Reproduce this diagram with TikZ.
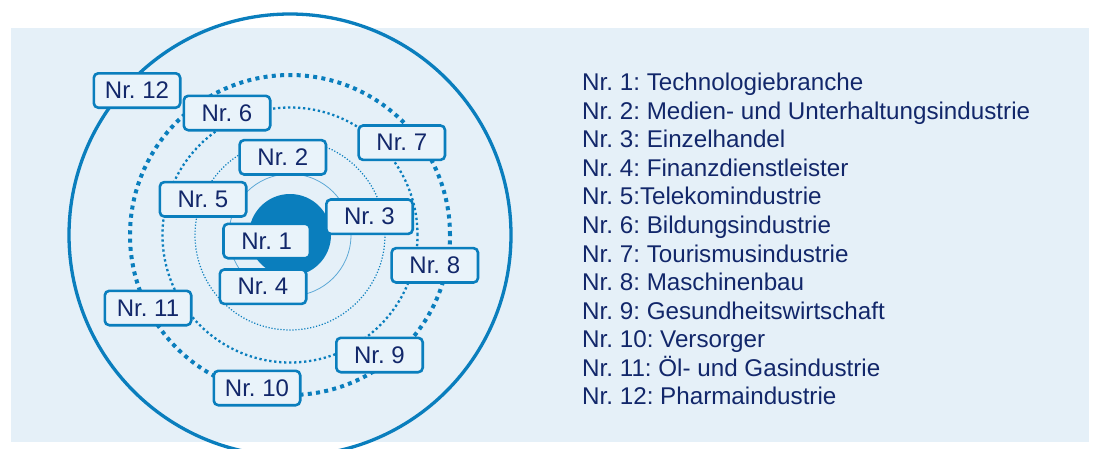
\documentclass[tikz,border=0pt]{standalone}
\usepackage{fontspec}
\setmainfont{Liberation Sans}
\frenchspacing
\definecolor{RingBlue}{HTML}{0A7EBD}
\definecolor{RingThin}{HTML}{5DA9D6}
\definecolor{PanelBlue}{HTML}{E5F0F8}
\definecolor{TagFill}{HTML}{E9F3FA}
\definecolor{InkNavy}{HTML}{12276A}

\begin{document}
\begin{tikzpicture}[
		x=1pt,y=-1pt,
		tag/.style={draw=RingBlue,line width=2.6pt,rounded corners=4.5pt,fill=TagFill,text=InkNavy,minimum width=86.4pt,minimum height=34.4pt,inner sep=0pt,font=\fontsize{24}{28}\selectfont},
		entry/.style={anchor=base west,inner sep=0pt,text=InkNavy,font=\fontsize{24.2}{28}\selectfont},
		ring/.style={draw=RingBlue}
	]
	\useasboundingbox (0,0) rectangle (1094,448);
	\clip (0,0) rectangle (1094,448);
	\fill[PanelBlue] (11,28) rectangle (1089,442);
	% rings round the core
	\coordinate (hub) at (290,235);
	\draw[ring,line width=3.3pt] (hub) circle[radius=221pt];
	\draw[ring,line width=4pt,dash pattern=on 4pt off 4.3pt] (hub) circle[radius=160pt];
	\draw[ring,line width=2.3pt,dash pattern=on 2.3pt off 2.7pt] (hub) circle[radius=127.5pt];
	\draw[ring,line width=1.2pt,dash pattern=on 1.2pt off 1.8pt] (hub) circle[radius=95pt];
	\draw[RingThin,line width=0.8pt] (hub) circle[radius=61pt];
	\fill[RingBlue] (hub) circle[radius=41pt];
	% tags
	\node[tag] (n12) at (137,90.5) {Nr. 12};
	\node[tag] (n6) at (227,113) {Nr. 6};
	\node[tag] (n7) at (401.8,142.7) {Nr. 7};
	\node[tag] (n2) at (282.8,157.3) {Nr. 2};
	\node[tag] (n5) at (203,199.3) {Nr. 5};
	\node[tag] (n3) at (369.5,216.7) {Nr. 3};
	\node[tag] (n1) at (266.7,241) {Nr. 1};
	\node[tag] (n8) at (434.8,265.3) {Nr. 8};
	\node[tag] (n4) at (263,286.7) {Nr. 4};
	\node[tag] (n11) at (148,308) {Nr. 11};
	\node[tag] (n9) at (379.5,355) {Nr. 9};
	\node[tag] (n10) at (257,388) {Nr. 10};
	% legend
	\foreach \txt [count=\i] in {Nr. 1: Technologiebranche,Nr. 2: Medien- und Unterhaltungsindustrie,Nr. 3: Einzelhandel,Nr. 4: Finanzdienstleister,Nr. 5:Telekomindustrie,Nr. 6: Bildungsindustrie,Nr. 7: Tourismusindustrie,Nr. 8: Maschinenbau,Nr. 9: Gesundheitswirtschaft,Nr. 10: Versorger,Nr. 11: Öl- und Gasindustrie,Nr. 12: Pharmaindustrie}
		\node[entry] (l\i) at (582,{90.7+28.57*(\i-1)}) {\txt};
\end{tikzpicture}
\end{document}
